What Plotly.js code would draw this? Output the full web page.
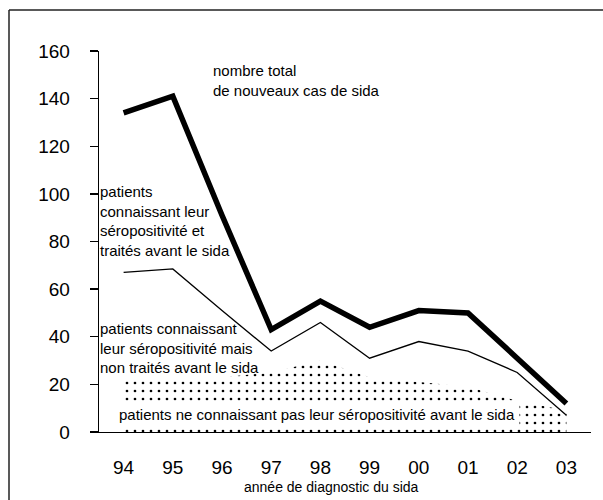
<!DOCTYPE html>
<html>
<head>
<meta charset="utf-8">
<script src="https://cdn.plot.ly/plotly-3.0.1.min.js"></script>
<style>html,body{margin:0;padding:0;background:#fff;}</style>
</head>
<body>
<div id="chart" style="width:603px;height:500px;"></div>
<script>
const years = ["94","95","96","97","98","99","00","01","02","03"];
const totalCases = [134, 141, 91, 43, 55, 44, 51, 50, 31, 12];
const knownTreated = [67, 68.5, 51, 34, 46, 31, 38, 34, 25, 7];
const unknownArea = [23, 23, 23, 25, 30, 23, 21, 19, 13, 9];
const yTicks = [0, 20, 40, 60, 80, 100, 120, 140, 160];

const labelFont = "Liberation Sans, Arial, sans-serif";
const regular = "Liberation Sans, Arial, sans-serif";

const traces = [
  {
    x: years, y: unknownArea, type: "scatter", mode: "none", fill: "tozeroy",
    fillcolor: "rgba(0,0,0,0)",
    fillpattern: {shape: ".", fgcolor: "#000", bgcolor: "#fff", size: 8, solidity: 0.09},
    hoverinfo: "skip"
  },
  {
    x: years, y: knownTreated, type: "scatter", mode: "lines",
    line: {color: "#000", width: 1.3}
  },
  {
    x: years, y: totalCases, type: "scatter", mode: "lines",
    line: {color: "#000", width: 5.5}
  }
];

const px = v => (v - 99) / 492;
const py = v => (432 - v) / 381;

const layout = {
  width: 603, height: 500,
  margin: {l: 99, r: 12, t: 51, b: 68},
  paper_bgcolor: "#fff", plot_bgcolor: "#fff",
  showlegend: false,
  font: {family: regular, color: "#000"},
  xaxis: {
    type: "category", range: [-0.5, 9.5],
    showgrid: false, zeroline: false,
    showline: true, linecolor: "#000", linewidth: 1.3,
    ticks: "", ticklabelstandoff: 18,
    tickfont: {family: regular, size: 19, color: "#000"}
  },
  yaxis: {
    range: [0, 160], tickvals: yTicks,
    showgrid: false, zeroline: false,
    showline: true, linecolor: "#000", linewidth: 1.3,
    ticks: "outside", ticklen: 8, tickcolor: "#000", tickwidth: 1.3,
    ticklabelstandoff: 16,
    tickfont: {family: regular, size: 19, color: "#000"}
  },
  shapes: [
    {type: "line", xref: "paper", yref: "paper",
     x0: px(9), x1: px(603), y0: py(10), y1: py(10),
     line: {color: "#222", width: 1.5}},
    {type: "line", xref: "paper", yref: "paper",
     x0: px(9), x1: px(9), y0: py(10), y1: py(500),
     line: {color: "#222", width: 1.5}}
  ],
  annotations: [
    {xref: "paper", yref: "paper", x: px(211), y: py(81),
     xanchor: "left", yanchor: "middle", align: "left", showarrow: false,
     text: "nombre total<br>de nouveaux cas de sida",
     font: {family: labelFont, size: 15, color: "#000"}},
    {xref: "paper", yref: "paper", x: px(98), y: py(221),
     xanchor: "left", yanchor: "middle", align: "left", showarrow: false,
     text: "patients<br>connaissant leur<br>séropositivité et<br>traités avant le sida",
     font: {family: labelFont, size: 15, color: "#000"}},
    {xref: "paper", yref: "paper", x: px(98), y: py(348),
     xanchor: "left", yanchor: "middle", align: "left", showarrow: false,
     text: "patients connaissant<br>leur séropositivité mais<br>non traités avant le sida",
     font: {family: labelFont, size: 15, color: "#000"}},
    {xref: "paper", yref: "paper", x: px(317), y: py(414),
     xanchor: "center", yanchor: "middle", showarrow: false,
     bgcolor: "#fff", borderpad: 4,
     text: "patients ne connaissant pas leur séropositivité avant le sida",
     font: {family: labelFont, size: 15, color: "#000"}},
    {xref: "paper", yref: "paper", x: px(331), y: py(487),
     xanchor: "center", yanchor: "middle", showarrow: false,
     text: "année de diagnostic du sida",
     font: {family: labelFont, size: 14, color: "#000"}}
  ]
};

Plotly.newPlot("chart", traces, layout, {displayModeBar: false, staticPlot: true});
</script>
</body>
</html>
